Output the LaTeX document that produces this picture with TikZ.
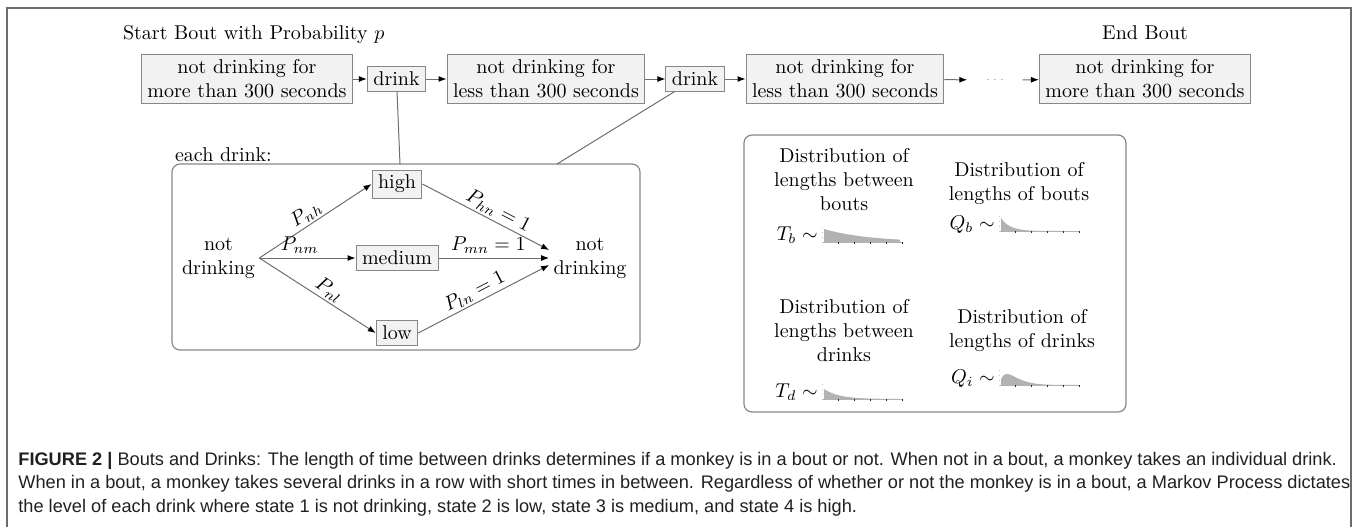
\documentclass[tikz,border=0pt]{standalone}
\usepackage{fontspec}
\newfontfamily\capfont{Liberation Sans}
\usetikzlibrary{arrows.meta}
\definecolor{boxfill}{RGB}{242,242,242}
\definecolor{boxline}{RGB}{135,135,135}
\definecolor{lineg}{RGB}{110,110,110}
\definecolor{capcol}{RGB}{35,31,32}
\tikzset{
  stbox/.style={draw=boxline, fill=boxfill, align=center, inner xsep=3pt, inner ysep=2.5pt, line width=0.5pt},
  arr/.style={draw=lineg, line width=0.5pt, -{Latex[length=4pt,width=3pt,color=black]}},
  conn/.style={draw=lineg, line width=0.5pt},
  frameb/.style={draw=boxline, line width=0.6pt, rounded corners=4pt},
  lbl/.style={inner sep=1pt},
  pics/minichart/.style={code={
    \draw[gray!45, dotted, line width=0.5pt] (0,1) -- (0,-15);
    \fill[gray!60] plot[domain=2:78, samples=50] (\x, {#1}) -- (78,0) -- (2,0) -- cycle;
    \draw[gray!60, line width=0.3pt] (1,0) -- (80,0);
    \foreach \t in {16,32,48,64,80} \draw[gray!30!black, line width=0.4pt] (\t,0) -- (\t,1.5);
  }}
}
\begin{document}
\begin{tikzpicture}[x=0.5pt,y=-0.5pt, every node/.append style={font=\fontsize{10}{12}\selectfont}]
\useasboundingbox (0,0) rectangle (1360,527);
% outer frame
\draw[boxline!80!black, line width=0.8pt] (7,527) -- (7,8) -- (1351,8) -- (1351,527);

% top row
\node[anchor=base west] (start) at (116,39) {Start Bout with Probability $p$};
\node[stbox] (b1) at (247,79) {not drinking for\\more than 300 seconds};
\node[stbox] (d1) at (396.5,79) {drink};
\node[stbox] (b2) at (546,79) {not drinking for\\less than 300 seconds};
\node[stbox] (d2) at (695,79) {drink};
\node[stbox] (b3) at (845,79) {not drinking for\\less than 300 seconds};
\node[text=gray, inner xsep=9pt, font=\tiny] (dots) at (995,80) {$\cdots$};
\node[stbox] (b4) at (1145,79) {not drinking for\\more than 300 seconds};
\node[anchor=base] (endb) at (1145,39) {End Bout};
\draw[arr] (b1) -- (d1);
\draw[arr] (d1) -- (b2);
\draw[arr] (b2) -- (d2);
\draw[arr] (d2) -- (b3);
\draw[arr] (b3) -- (dots);
\draw[arr] (dots) -- (b4);

% each drink box
\draw[frameb] (172,164) rectangle (640,350);
\node[anchor=base west] (ed) at (168,161) {each drink:};
\coordinate (c1) at (400,164);
\coordinate (c2) at (557,164);
\draw[conn] (d1) -- (c1);
\draw[conn] (d2) -- (c2);

\node[align=center, inner sep=2pt] (n1) at (218.5,258) {not\\drinking};
\node[stbox] (hi) at (397,184) {high};
\node[stbox] (me) at (397,258) {medium};
\node[stbox] (lo) at (397,333) {low};
\node[align=center, inner sep=2pt] (n2) at (590,258) {not\\drinking};

\draw[arr] (n1.east) -- node[lbl, sloped, above, pos=0.47] {$P_{nh}$} (hi.west);
\draw[arr] (n1.east) -- node[above, pos=0.42, inner sep=2pt] {$P_{nm}$} (me.west);
\draw[arr] (n1.east) -- node[lbl, sloped, above, pos=0.55] {$P_{nl}$} (lo.west);
\draw[arr] (hi.east) -- node[lbl, sloped, above, pos=0.56] {$P_{hn}=1$} ([yshift=4pt]n2.west);
\draw[arr] (me.east) -- node[above, pos=0.45, inner sep=2pt] {$P_{mn}=1$} (n2.west);
\draw[arr] (lo.east) -- node[lbl, sloped, above, pos=0.47] {$P_{ln}=1$} ([yshift=-3.5pt]n2.west);

% distributions box
\draw[frameb] (744,135) rectangle (1126,412);
\node[align=center] (tl) at (844,180) {Distribution of\\lengths between\\bouts};
\node[anchor=base east, inner sep=1pt] (tb) at (820,240) {$T_b\sim$};
\pic at (822,242) {minichart={-13*exp(-(\x-2)/45)}};
\node[align=center] (tr) at (1019,183) {Distribution of\\lengths of bouts};
\node[anchor=base east, inner sep=1pt] (qb) at (997,229) {$Q_b\sim$};
\pic at (999,231) {minichart={-13*exp(-(\x-2)/9)}};
\node[align=center] (bl) at (844,331) {Distribution of\\lengths between\\drinks};
\node[anchor=base east, inner sep=1pt] (td) at (820,397) {$T_d\sim$};
\pic at (822,399) {minichart={-10*exp(-(\x-2)/15)}};
\node[align=center] (br) at (1022,330) {Distribution of\\lengths of drinks};
\node[anchor=base east, inner sep=1pt] (qi) at (997,383) {$Q_i\sim$};
\pic at (999,385) {minichart={-11*(\x/8)*exp(1-\x/8)}};

% caption
\node[anchor=north west, align=left, inner sep=0pt, text=capcol,
      font=\capfont\fontsize{9.1}{11.6}\selectfont] (cap) at (18,452)
  {\textbf{FIGURE 2 |} Bouts and Drinks: The length of time between drinks determines if a monkey is in a bout or not. When not in a bout, a monkey takes an individual drink.\\
   When in a bout, a monkey takes several drinks in a row with short times in between. Regardless of whether or not the monkey is in a bout, a Markov Process dictates\\
   the level of each drink where state 1 is not drinking, state 2 is low, state 3 is medium, and state 4 is high.};
\end{tikzpicture}
\end{document}
